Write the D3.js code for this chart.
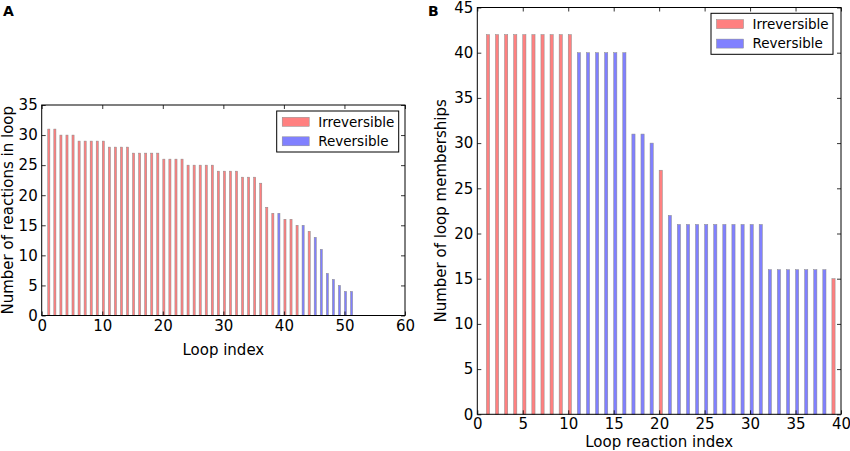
<!DOCTYPE html>
<meta charset="utf-8">
<head lang="en">
    <title>Loop reactions</title>
    <script src="https://d3js.org/d3.v7.min.js"></script>
    <style type="text/css">
        body { margin: 0; background: #fff; }
        text { font-family: "DejaVu Sans", sans-serif; fill: #000; }
        .tick text { font-size: 15px; }
        .tick line { stroke: #000; stroke-width: 0.8; }
        .frame { fill: none; stroke: #000; stroke-width: 1; }
        .bar { stroke: #8a8a8a; stroke-width: 0.5; }
        .irr { fill: #ff8080; }
        .rev { fill: #8080ff; }
    </style>
</head>
<body>
<script type="text/javascript">

    // panel A: number of reactions in each loop, R = irreversible, B = reversible
    var loopIndex = d3.range(1, 52);
    var loopSize = [31, 31, 30, 30, 30, 29, 29, 29, 29, 29,
                    28, 28, 28, 28, 27, 27, 27, 27, 27, 26,
                    26, 26, 26, 25, 25, 25, 25, 25, 24, 24,
                    24, 24, 23, 23, 23, 22, 18, 17, 17, 16,
                    16, 15, 15, 14, 13, 11, 7, 6, 5, 4, 4];
    var loopType = ["R","R","R","R","R","R","R","R","R","R",
                    "R","R","R","R","R","R","R","R","R","R",
                    "R","R","R","R","R","R","R","R","R","R",
                    "R","R","R","R","R","R","R","R","B","R",
                    "R","R","B","R","B","B","B","B","B","B","B"];

    // panel B: loop memberships for each reaction
    var reactionIndex = d3.range(1, 40);
    var memberships = [42, 42, 42, 42, 42, 42, 42, 42, 42, 42,
                       40, 40, 40, 40, 40, 40, 31, 31, 30, 27,
                       22, 21, 21, 21, 21, 21, 21, 21, 21, 21,
                       21, 16, 16, 16, 16, 16, 16, 16, 15];
    var reactionType = ["R","R","R","R","R","R","R","R","R","R",
                        "B","B","B","B","B","B","B","B","B","R",
                        "B","B","B","B","B","B","B","B","B","B",
                        "B","B","B","B","B","B","B","B","R"];

    var xTicksA = [0, 10, 20, 30, 40, 50, 60];
    var yTicksA = [0, 5, 10, 15, 20, 25, 30, 35];
    var xTicksB = [0, 5, 10, 15, 20, 25, 30, 35, 40];
    var yTicksB = [0, 5, 10, 15, 20, 25, 30, 35, 40, 45];
    var legendLabels = ["Irreversible", "Reversible"];

    var width = 850;
    var height = 451;
    var barWidth = 0.35;

    var svg = d3.select("body")
        .append("svg")
        .attr("width", width)
        .attr("height", height);

    function panel(opt) {
        var xScale = d3.scaleLinear()
            .domain(opt.xDomain)
            .range([opt.left, opt.right]);
        var yScale = d3.scaleLinear()
            .domain(opt.yDomain)
            .range([opt.bottom, opt.top]);

        var g = svg.append("g");

        // bars
        g.selectAll(".bar")
            .data(opt.values)
            .enter()
            .append("rect")
            .attr("class", function (d, i) {
                return "bar " + (opt.types[i] === "R" ? "irr" : "rev");
            })
            .attr("x", function (d, i) { return xScale(opt.index[i]); })
            .attr("width", function (d, i) {
                return xScale(opt.index[i] + barWidth) - xScale(opt.index[i]);
            })
            .attr("y", function (d) { return yScale(d); })
            .attr("height", function (d) { return yScale(0) - yScale(d); });

        // axes with inward ticks on all four sides
        g.append("g")
            .attr("transform", "translate(0," + opt.bottom + ")")
            .call(d3.axisBottom(xScale).tickValues(opt.xTicks)
                .tickSizeInner(-4).tickSizeOuter(0).tickPadding(4.5)
                .tickFormat(d3.format("d")));
        g.append("g")
            .attr("transform", "translate(" + opt.left + ",0)")
            .call(d3.axisLeft(yScale).tickValues(opt.yTicks)
                .tickSizeInner(-4).tickSizeOuter(0).tickPadding(4)
                .tickFormat(d3.format("d")));
        g.append("g")
            .attr("transform", "translate(0," + opt.top + ")")
            .call(d3.axisTop(xScale).tickValues(opt.xTicks)
                .tickSizeInner(-4).tickSizeOuter(0).tickFormat(""));
        g.append("g")
            .attr("transform", "translate(" + opt.right + ",0)")
            .call(d3.axisRight(yScale).tickValues(opt.yTicks)
                .tickSizeInner(-4).tickSizeOuter(0).tickFormat(""));
        g.selectAll(".domain").remove();

        g.append("rect")
            .attr("class", "frame")
            .attr("x", opt.left)
            .attr("y", opt.top)
            .attr("width", opt.right - opt.left)
            .attr("height", opt.bottom - opt.top);

        // axis titles
        g.append("text")
            .attr("x", (opt.left + opt.right) / 2)
            .attr("y", opt.xLabelY)
            .attr("text-anchor", "middle")
            .attr("font-size", "15px")
            .text(opt.xLabel);
        g.append("text")
            .attr("transform", "translate(" + opt.yLabelX + "," + (opt.top + opt.bottom) / 2 + ") rotate(-90)")
            .attr("text-anchor", "middle")
            .attr("font-size", "15px")
            .text(opt.yLabel);

        // panel letter
        g.append("text")
            .attr("x", opt.letterX)
            .attr("y", 15.5)
            .attr("font-size", "14px")
            .attr("font-weight", "bold")
            .text(opt.letter);

        // legend
        var lg = g.append("g")
            .attr("transform", "translate(" + opt.legendX + "," + opt.legendY + ")");
        lg.append("rect")
            .attr("width", 122)
            .attr("height", 41)
            .attr("fill", "#fff")
            .attr("stroke", "#000")
            .attr("stroke-width", 1);
        lg.selectAll(".patch")
            .data(legendLabels)
            .enter()
            .append("rect")
            .attr("class", function (d, i) { return "bar " + (i === 0 ? "irr" : "rev"); })
            .attr("x", 5.5)
            .attr("y", function (d, i) { return 6.3 + i * 19.5; })
            .attr("width", 27)
            .attr("height", 9);
        lg.selectAll(".lab")
            .data(legendLabels)
            .enter()
            .append("text")
            .attr("x", 41.5)
            .attr("y", function (d, i) { return 10.8 + i * 19.5; })
            .attr("dy", "0.36em")
            .attr("font-size", "13.5px")
            .text(function (d) { return d; });
    }

    panel({
        index: loopIndex, values: loopSize, types: loopType,
        xDomain: [0, 60], yDomain: [0, 35],
        xTicks: xTicksA, yTicks: yTicksA,
        left: 41.7, right: 405, top: 105, bottom: 315.5,
        xLabel: "Loop index", xLabelY: 355,
        yLabel: "Number of reactions in loop", yLabelX: 13,
        letter: "A", letterX: 3,
        legendX: 276.7, legendY: 111
    });

    panel({
        index: reactionIndex, values: memberships, types: reactionType,
        xDomain: [0, 40], yDomain: [0, 45],
        xTicks: xTicksB, yTicks: yTicksB,
        left: 477.3, right: 841, top: 7.5, bottom: 414.3,
        xLabel: "Loop reaction index", xLabelY: 446.5,
        yLabel: "Number of loop memberships", yLabelX: 446,
        letter: "B", letterX: 428,
        legendX: 711, legendY: 13.3
    });

</script>
</body>
